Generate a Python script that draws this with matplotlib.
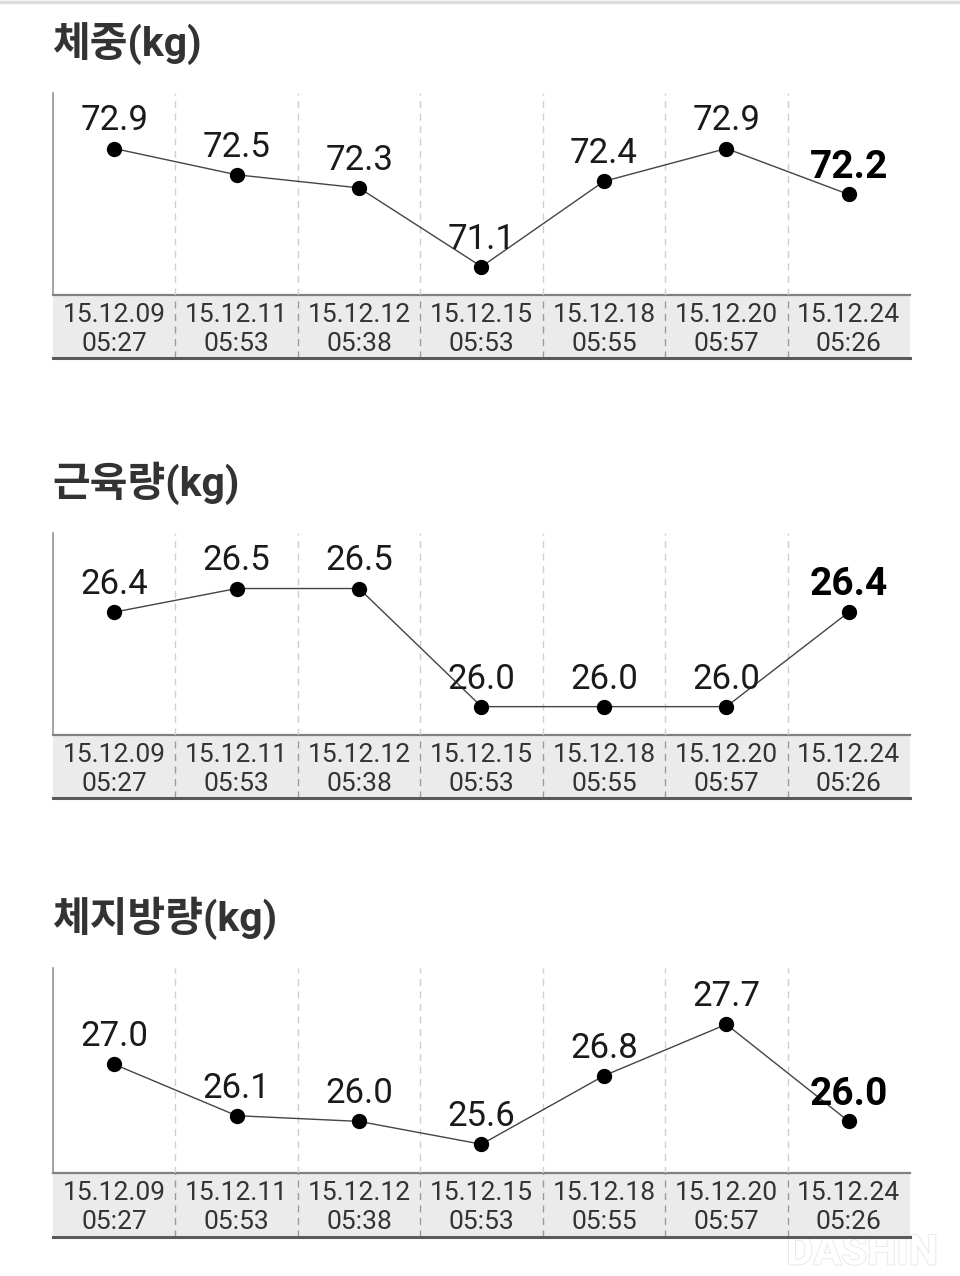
import matplotlib.pyplot as plt
import matplotlib.patheffects as pe

plt.rcParams['font.family'] = ['Roboto', 'Noto Sans CJK KR', 'DejaVu Sans']

# 데이터
dates = ['15.12.09', '15.12.11', '15.12.12', '15.12.15', '15.12.18', '15.12.20', '15.12.24']
times = ['05:27', '05:53', '05:38', '05:53', '05:55', '05:57', '05:26']
weight = [72.9, 72.5, 72.3, 71.1, 72.4, 72.9, 72.2]
muscle = [26.4, 26.5, 26.5, 26.0, 26.0, 26.0, 26.4]
fat = [27.0, 26.1, 26.0, 25.6, 26.8, 27.7, 26.0]
titles = ['체중(kg)', '근육량(kg)', '체지방량(kg)']
series = [weight, muscle, fat]

W, H = 960, 1276
fig = plt.figure(figsize=(W / 100, H / 100), dpi=100)
fig.patch.set_facecolor('white')

# 상단 회색 선
fig.add_artist(plt.Line2D([0, 1], [1 - 2 / H, 1 - 2 / H], color='#dddddd', lw=2.5))

# 워터마크 (희미하게, 맨 뒤)
fig.text(862 / W, 1 - 1253 / H, 'DASHIN', fontsize=30, color='white',
         ha='center', va='center', fontweight='bold', zorder=-1,
         path_effects=[pe.withStroke(linewidth=1.2, foreground='#e6e6e6')])

# 패널 위치 (픽셀): 제목 y, 그래프 위, 그래프 아래, 날짜 띠 아래
panels = [(44, 93, 295, 358), (483, 533, 735, 798), (918, 968, 1173, 1237)]
left, right = 53, 910
labels = [d + '\n' + t for d, t in zip(dates, times)]
x = list(range(len(dates)))

for (ty, top, bot, bbot), vals, title in zip(panels, series, titles):
    fig.text(52 / W, 1 - ty / H, title, fontsize=29.5, fontweight='bold',
             color='#333333', va='center', ha='left')

    # 날짜 띠
    band = fig.add_axes([left / W, 1 - bbot / H, (right - left) / W, (bbot - bot) / H])
    band.set_facecolor('#ebebeb')
    band.set_xlim(-0.5, 6.5)
    band.set_ylim(0, 1)
    band.set_xticks([])
    band.set_yticks([])
    for s in ['left', 'right']:
        band.spines[s].set_visible(False)
    band.spines['top'].set_color('#808080')
    band.spines['top'].set_linewidth(1.6)
    band.spines['bottom'].set_color('#5a5a5a')
    band.spines['bottom'].set_linewidth(2.2)
    for k in range(1, 7):
        band.axvline(k - 0.5, color='#9a9a9a', lw=1, ls=(0, (5, 4)))

    ax = fig.add_axes([left / W, 1 - bot / H, (right - left) / W, (bot - top) / H])
    ax.patch.set_alpha(0)
    lo, hi = min(vals), max(vals)
    r = hi - lo
    ax.set_ylim(lo - 0.24 * r, hi + 0.47 * r)
    ax.set_xlim(-0.5, 6.5)
    for s in ['top', 'right', 'bottom']:
        ax.spines[s].set_visible(False)
    ax.spines['left'].set_color('#8a8a8a')
    ax.spines['left'].set_linewidth(1.1)
    ax.set_yticks([])
    ax.set_xticks(x)
    ax.set_xticklabels(labels, fontsize=19, color='#333333', linespacing=1.22)
    ax.tick_params(axis='x', length=0, pad=6)
    for k in range(1, 7):
        ax.axvline(k - 0.5, color='#cfcfcf', lw=1, ls=(0, (5, 4)))

    ax.plot(x, vals, color='#444444', lw=1.0, marker='o', markersize=10,
            markerfacecolor='black', markeredgecolor='black', zorder=3)
    for i, v in enumerate(vals):
        last = i == len(vals) - 1
        ax.annotate(f'{v:.1f}', (i, v), xytext=(0, 12 if last else 13),
                    textcoords='offset points', ha='center', va='baseline',
                    fontsize=28 if last else 25,
                    fontweight='bold' if last else 'normal',
                    color='black' if last else '#1a1a1a', zorder=4)

fig.savefig('out.png', dpi=100)
